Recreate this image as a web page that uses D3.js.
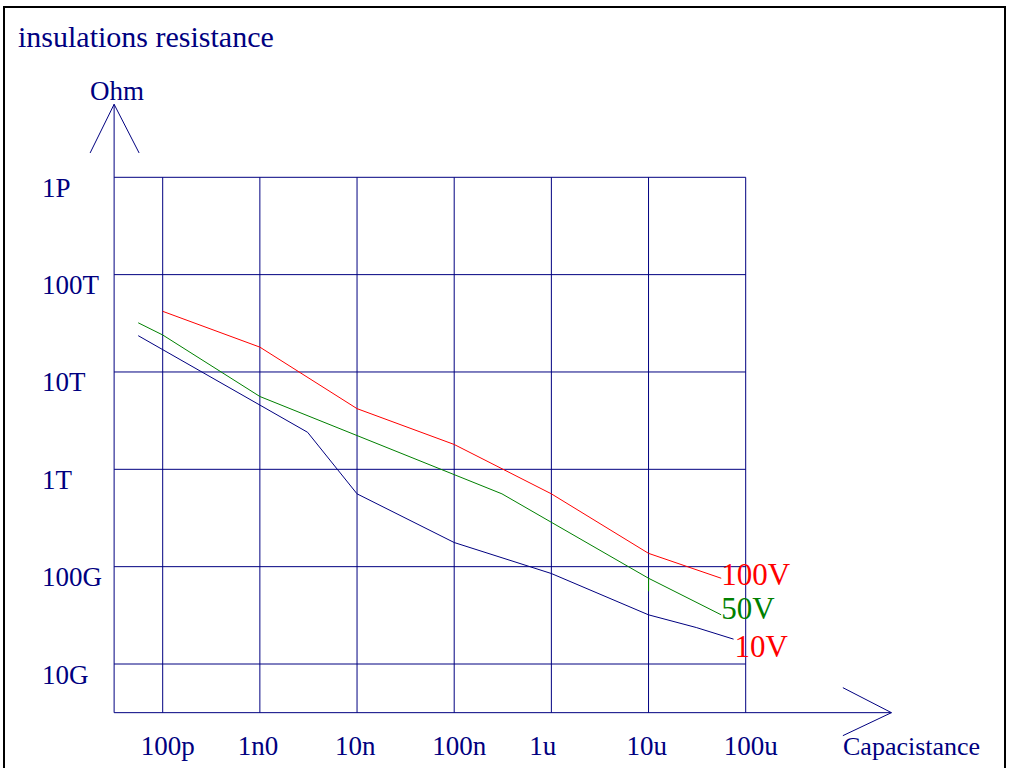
<!DOCTYPE html>
<html>
<head>
<meta charset="utf-8">
<script src="https://cdn.jsdelivr.net/npm/d3@7"></script>
<style>
  body { margin: 0; background: #fff; }
  svg { display: block; }
  text { font-family: "Liberation Serif", "Times New Roman", serif; }
</style>
</head>
<body>
<script>
// tick values and labels
let xTicks = [1e-10, 1e-9, 1e-8, 1e-7, 1e-6, 1e-5, 1e-4]
let xTickLabels = ['100p', '1n0', '10n', '100n', '1u', '10u', '100u']
let yTicks = [1e15, 1e14, 1e13, 1e12, 1e11, 1e10]
let yTickLabels = ['1P', '100T', '10T', '1T', '100G', '10G']

// series: [capacitance (F), resistance (Ohm)]
let series100V = [[1e-10, 4.2e13], [1e-9, 1.8e13], [1e-8, 4.2e12], [1e-7, 1.8e12],
  [1e-6, 5.6e11], [1e-5, 1.37e11], [5.6e-5, 7.6e10]]
let series50V = [[5.6e-11, 3.2e13], [1e-10, 2.4e13], [1e-9, 5.6e12], [3.1e-7, 5.6e11],
  [1e-5, 7.6e10], [1e-5, 5.6e10], [1e-5, 7.6e10], [5.6e-5, 3.2e10]]
let series10V = [[5.6e-11, 2.36e13], [3.1e-9, 2.4e12], [1e-8, 5.6e11], [1e-7, 1.77e11],
  [1e-6, 8.5e10], [1e-5, 3.2e10], [3.1e-5, 2.37e10], [7.5e-5, 1.8e10]]

let seriesNames = ['100V', '50V', '10V']
let seriesColors = ['#ff0000', '#008000', '#000080']
let labelColors = ['#ff0000', '#008000', '#ff0000']

function drawChart () {
  let width = 1011
  let height = 768
  let navy = '#000080'

  let svg = d3.select('body').append('svg')
    .attr('width', width)
    .attr('height', height)

  // frame
  svg.append('rect')
    .attr('x', 4)
    .attr('y', 7)
    .attr('width', 1001)
    .attr('height', 800)
    .style('fill', 'none')
    .style('stroke', 'black')
    .style('stroke-width', 2)

  let x = d3.scaleLog().domain([1e-10, 1e-4]).range([162.7, 745.7])
  let y = d3.scaleLog().domain([1e10, 1e15]).range([664, 177.3])

  let x0 = x(Math.pow(10, -10.5))
  let y0 = y(Math.pow(10, 9.5))

  svg.append('text')
    .attr('x', 18)
    .attr('y', 47)
    .style('font-size', '30px')
    .style('fill', navy)
    .text('insulations resistance')

  let grid = svg.append('g')
    .style('stroke', navy)
    .style('stroke-width', 1)

  grid.selectAll('.hline')
    .data(yTicks)
    .enter().append('line')
    .attr('x1', x0)
    .attr('x2', x(1e-4))
    .attr('y1', d => y(d))
    .attr('y2', d => y(d))

  grid.selectAll('.vline')
    .data(xTicks)
    .enter().append('line')
    .attr('x1', d => x(d))
    .attr('x2', d => x(d))
    .attr('y1', y0)
    .attr('y2', y(1e15))

  // axes with open arrow heads
  let yTop = y(Math.pow(10, 15.75))
  let yArm = y(Math.pow(10, 15.25))
  let xEnd = x(Math.pow(10, -2.5))
  let xArm = x(1e-3)
  grid.append('line').attr('x1', x0).attr('x2', x0).attr('y1', y0).attr('y2', yTop)
  grid.append('path')
    .attr('d', 'M' + (x0 - 24) + ',' + yArm + 'L' + x0 + ',' + yTop + 'L' + (x0 + 25) + ',' + yArm)
    .style('fill', 'none')
  grid.append('line').attr('x1', x0).attr('x2', xEnd).attr('y1', y0).attr('y2', y0)
  grid.append('path')
    .attr('d', 'M' + xArm + ',' + (y0 - 25) + 'L' + xEnd + ',' + y0 + 'L' + xArm + ',' + (y0 + 23))
    .style('fill', 'none')

  svg.append('text')
    .attr('x', 90)
    .attr('y', 100)
    .style('font-size', '27px')
    .style('fill', navy)
    .text('Ohm')

  svg.append('text')
    .attr('x', 843)
    .attr('y', 755)
    .style('font-size', '26px')
    .style('fill', navy)
    .text('Capacistance')

  svg.selectAll('.ylab')
    .data(yTicks)
    .enter().append('text')
    .attr('x', 42)
    .attr('y', d => y(d) + 19.5)
    .style('font-size', '27px')
    .style('fill', navy)
    .text((d, i) => yTickLabels[i])

  svg.selectAll('.xlab')
    .data(xTicks)
    .enter().append('text')
    .attr('x', d => x(d) - 22)
    .attr('y', 755)
    .style('font-size', '27px')
    .style('fill', navy)
    .text((d, i) => xTickLabels[i])

  let line = d3.line()
    .x(d => x(d[0]))
    .y(d => y(d[1]))

  let labelDy = [7, 4, 18]
  let allSeries = [series100V, series50V, series10V]
  allSeries.forEach((s, i) => {
    svg.append('path')
      .attr('d', line(s))
      .style('fill', 'none')
      .style('stroke', seriesColors[i])
      .style('stroke-width', 1)

    let last = s[s.length - 1]
    svg.append('text')
      .attr('x', x(last[0]) + (i === 2 ? 1 : 0))
      .attr('y', y(last[1]) + labelDy[i])
      .style('font-size', '31px')
      .style('fill', labelColors[i])
      .text(seriesNames[i])
  })
}

drawChart()
</script>
</body>
</html>
